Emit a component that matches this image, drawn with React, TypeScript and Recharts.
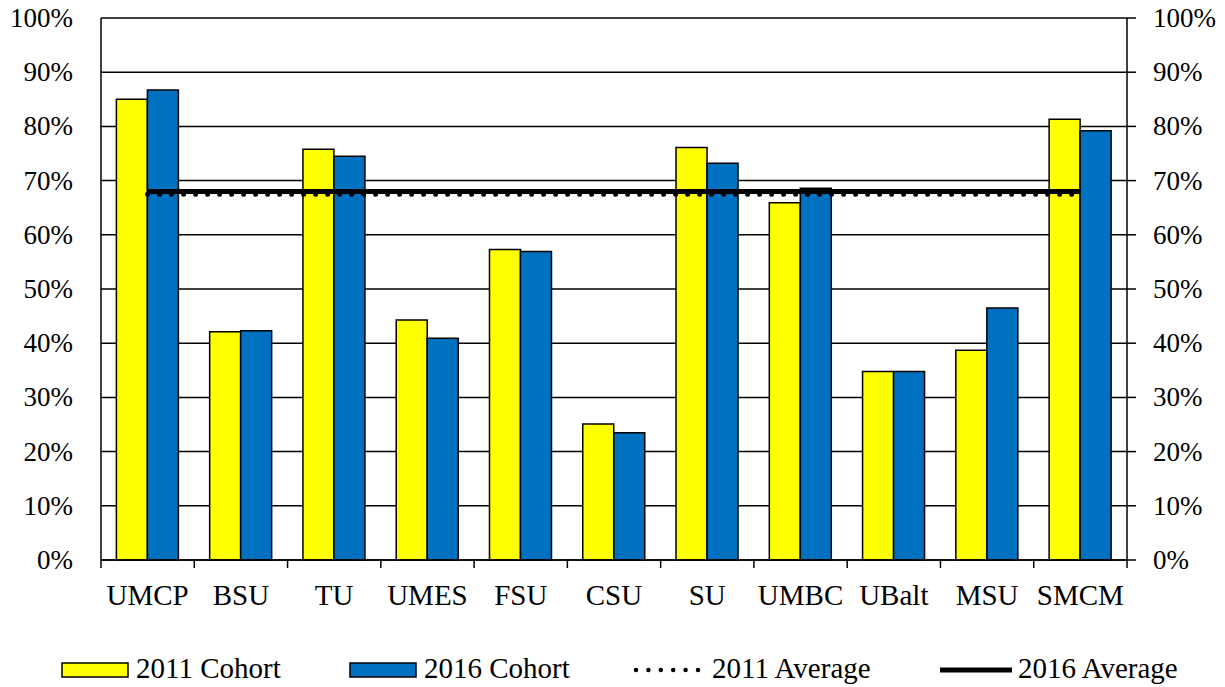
import React from 'react';
import {
  ComposedChart,
  Bar,
  Line,
  XAxis,
  YAxis,
  CartesianGrid,
} from 'recharts';

const categories = ['UMCP', 'BSU', 'TU', 'UMES', 'FSU', 'CSU', 'SU', 'UMBC', 'UBalt', 'MSU', 'SMCM'];
const cohort2011 = [85.0, 42.1, 75.8, 44.3, 57.3, 25.1, 76.1, 65.9, 34.8, 38.7, 81.3];
const cohort2016 = [86.7, 42.3, 74.5, 40.9, 56.9, 23.5, 73.2, 68.6, 34.8, 46.5, 79.2];
const average2011 = 67.5;
const average2016 = 68.0;
const yTicks = [0, 10, 20, 30, 40, 50, 60, 70, 80, 90, 100];

const data = categories.map((name, i) => ({
  name,
  c2011: cohort2011[i],
  c2016: cohort2016[i],
  a2011: average2011,
  a2016: average2016,
}));

const FONT = 'Liberation Serif';
const CHART_W = 1225;
const CHART_H = 630;
const PLOT_LEFT = 101;
const PLOT_RIGHT = 1127;
const BAND = (PLOT_RIGHT - PLOT_LEFT) / categories.length;

// category label plus boundary tick marks
function CategoryTick(props: any) {
  const { x, y, payload, index } = props;
  const left = x - BAND / 2;
  return (
    <g>
      <line x1={left} y1={y} x2={left} y2={y + 8} stroke="#000" strokeWidth={1.5} />
      {index === categories.length - 1 && (
        <line x1={x + BAND / 2} y1={y} x2={x + BAND / 2} y2={y + 8} stroke="#000" strokeWidth={1.5} />
      )}
      <text x={x} y={y + 45} textAnchor="middle" fontSize={29} fontFamily={FONT} fill="#000">
        {payload.value}
      </text>
    </g>
  );
}

function PercentTick(props: any) {
  const { x, y, payload, textAnchor } = props;
  return (
    <text x={x} y={y + 9} textAnchor={textAnchor} fontSize={27} fontFamily={FONT} fill="#000">
      {`${payload.value}%`}
    </text>
  );
}

function ChartLegend() {
  const textStyle = { fontSize: 29, fontFamily: FONT, fill: '#000' };
  return (
    <svg width={CHART_W} height={57} style={{ display: 'block' }}>
      <rect x={62} y={33} width={66} height={14} fill="#FFFF00" stroke="#000" strokeWidth={1.5} />
      <text x={136} y={48} {...textStyle}>2011 Cohort</text>
      <rect x={350} y={33} width={66} height={14} fill="#0070C0" stroke="#000" strokeWidth={1.5} />
      <text x={424} y={48} {...textStyle}>2016 Cohort</text>
      <line x1={636} y1={40} x2={698} y2={40} stroke="#000" strokeWidth={4.5} strokeLinecap="round" strokeDasharray="0 12.4" />
      <text x={712} y={48} {...textStyle}>2011 Average</text>
      <line x1={940} y1={40} x2={1012} y2={40} stroke="#000" strokeWidth={5} />
      <text x={1018} y={48} {...textStyle}>2016 Average</text>
    </svg>
  );
}

export default function App() {
  return (
    <div style={{ position: 'absolute', left: 0, top: 0, width: CHART_W, background: '#fff', fontFamily: FONT }}>
      <ComposedChart
        width={CHART_W}
        height={CHART_H}
        data={data}
        margin={{ top: 18, right: 0, bottom: 0, left: 0 }}
        barCategoryGap="16.5%"
        barGap={0}
      >
        <CartesianGrid vertical={false} stroke="#000" strokeWidth={1.5} yAxisId="left" />
        <XAxis
          dataKey="name"
          height={70}
          tickLine={false}
          tickSize={0}
          tickMargin={0}
          interval={0}
          axisLine={{ stroke: '#000', strokeWidth: 1.5 }}
          tick={<CategoryTick />}
        />
        <YAxis
          yAxisId="left"
          width={PLOT_LEFT}
          domain={[0, 100]}
          ticks={yTicks}
          tickLine={false}
          tickSize={0}
          tickMargin={28}
          axisLine={{ stroke: '#000', strokeWidth: 1.5 }}
          tick={<PercentTick />}
        />
        <YAxis
          yAxisId="right"
          orientation="right"
          width={CHART_W - PLOT_RIGHT}
          domain={[0, 100]}
          ticks={yTicks}
          tickLine={{ stroke: '#000', strokeWidth: 1.5 }}
          tickSize={9}
          tickMargin={17}
          axisLine={{ stroke: '#000', strokeWidth: 1.5 }}
          tick={<PercentTick />}
        />
        <Bar yAxisId="left" dataKey="c2011" fill="#FFFF00" stroke="#000" strokeWidth={1.5} isAnimationActive={false} />
        <Bar yAxisId="left" dataKey="c2016" fill="#0070C0" stroke="#000" strokeWidth={1.5} isAnimationActive={false} />
        <Line
          yAxisId="right"
          dataKey="a2011"
          stroke="#000"
          strokeWidth={5}
          strokeLinecap="round"
          strokeDasharray="0 12"
          dot={false}
          activeDot={false}
          isAnimationActive={false}
        />
        <Line
          yAxisId="right"
          dataKey="a2016"
          stroke="#000"
          strokeWidth={5}
          dot={false}
          activeDot={false}
          isAnimationActive={false}
        />
      </ComposedChart>
      <ChartLegend />
    </div>
  );
}
